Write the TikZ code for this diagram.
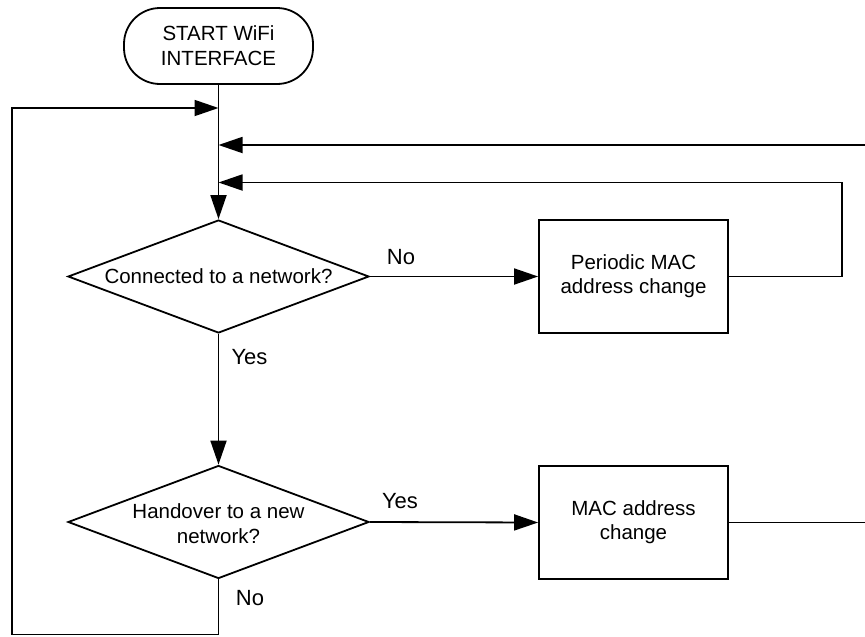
\documentclass[tikz,border=0pt]{standalone}
\usepackage{fontspec}
\setmainfont{Liberation Sans}
\usetikzlibrary{shapes.geometric,arrows.meta}
\begin{document}
\begin{tikzpicture}[x=1pt,y=-1pt, line width=1.8pt,
  txt/.style={font=\fontsize{20.5}{25}\selectfont, align=center, inner sep=0pt},
  lbl/.style={font=\fontsize{22}{26}\selectfont, inner sep=0pt},
  term/.style={draw, line width=1.8pt, rectangle, rounded corners=36pt, minimum width=189pt, minimum height=76pt, inner sep=0pt, align=center, font=\fontsize{20.5}{25}\selectfont},
  decision/.style={draw, line width=1.8pt, diamond, minimum width=301pt, minimum height=113pt, inner sep=0pt},
  process/.style={draw, line width=1.8pt, rectangle, minimum width=189pt, minimum height=113pt, inner sep=0pt, align=center, font=\fontsize{20.5}{24}\selectfont},
  arr/.style={line width=1.8pt, -{Triangle[length=24pt,width=16pt]}},
  plain/.style={line width=1.8pt}
]
\useasboundingbox (0,0) rectangle (865,637);

\node[term] (start) at (218.5,46) {START WiFi\\INTERFACE};
\node[decision] (d1) at (218.5,276.5) {};
\node[txt] (d1t) at (d1) {Connected to a network?};
\node[process] (b1) at (633.5,276.5) {Periodic MAC\\address change};
\node[decision] (d2) at (218.5,522) {};
\node[txt] (d2t) at (218.5,524) {Handover to a new\\network?};
\node[process] (b2) at (633.5,522.5) {MAC address\\change};

\coordinate (j0) at (218.5,108);
\coordinate (j1) at (218.5,145);
\coordinate (j2) at (218.5,182.5);
\coordinate (e1) at (865,145);
\coordinate (r1) at (842,276.5);
\coordinate (bl) at (12,634.5);
\coordinate (e2) at (865,522.5);

\draw[arr] (start.south) -- (d1.north);
\draw[arr] (e1) -- (j1);
\draw[arr] (b1.east) -- (r1) |- (j2);
\draw[arr] (d1.east) -- (b1.west);
\draw[arr] (d1.south) -- (d2.north);
\draw[arr] (d2.east) -- (b2.west);
\draw[plain] (b2.east) -- (e2);
\draw[arr] (d2.south) |- (bl) |- (j0);

\node[lbl] (no1) at (401,257.5) {No};
\node[lbl] (yes1) at (249.5,357) {Yes};
\node[lbl] (yes2) at (400,501.5) {Yes};
\node[lbl] (no2) at (250,598.5) {No};
\end{tikzpicture}
\end{document}
